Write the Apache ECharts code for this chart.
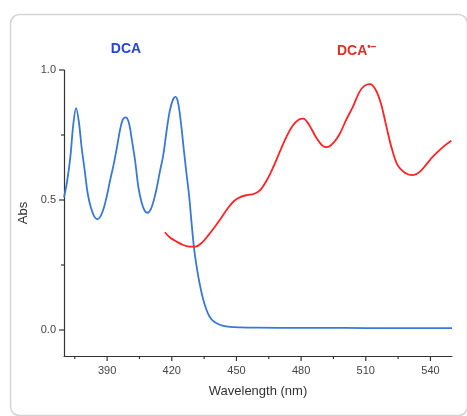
<!DOCTYPE html>
<html>
<head>
<meta charset="utf-8">
<script src="https://cdn.jsdelivr.net/npm/echarts@6/dist/echarts.min.js"></script>
<style>
html,body{margin:0;padding:0;background:#fff;}
#chart{width:467px;height:416px;}
</style>
</head>
<body>
<div id="chart"></div>
<script>
const blueWavelength = [370,371.5,373,374.3,375.6,376.9,378.2,379.5,381,382.5,384,385.5,387,388.5,390,391.5,393,394.5,396,397.3,398.5,400,401.5,403,404.5,406,407.5,408.8,410.3,411.7,413,414.5,416,417.5,419,420.5,421.7,422.9,424.2,425.5,426.7,428,429.2,430.4,431.7,433,434.5,436,437.5,439,441,443.5,447,452,460,480,500,520,550];
const blueAbs = [0.51,0.575,0.67,0.79,0.853,0.80,0.70,0.62,0.525,0.47,0.437,0.426,0.438,0.47,0.52,0.58,0.635,0.70,0.77,0.81,0.818,0.80,0.73,0.65,0.55,0.49,0.458,0.451,0.465,0.50,0.545,0.61,0.67,0.76,0.84,0.885,0.897,0.875,0.80,0.70,0.61,0.52,0.41,0.31,0.235,0.175,0.12,0.08,0.052,0.036,0.025,0.017,0.012,0.01,0.009,0.008,0.008,0.007,0.007];
const redWavelength = [416.8,419,422,425,428,431,434,437,440,443,446,449,452,455,458,461,464,467,470,473,476,479,481,484,487,490,492,495,498,501,504,507,509.5,512,514.5,517,519.5,522,524.5,527,529.5,532,535,538,541,544,547,549.7];
const redAbs = [0.376,0.357,0.341,0.328,0.321,0.321,0.336,0.365,0.397,0.432,0.468,0.497,0.512,0.519,0.523,0.538,0.575,0.625,0.683,0.74,0.785,0.81,0.813,0.785,0.74,0.708,0.703,0.72,0.756,0.81,0.858,0.915,0.94,0.946,0.925,0.872,0.785,0.70,0.638,0.612,0.599,0.596,0.608,0.636,0.666,0.69,0.712,0.728];
const xLabelValues = [390,420,450,480,510,540];
const xMinorValues = [375,405,435,465,495,525];
const yLabelValues = [0,0.5,1.0];
const yMinorValues = [0.25,0.75];

const X_MIN = 370, X_MAX = 550, Y_MIN = -0.1, Y_MAX = 1.0;

const blueData = blueWavelength.map((w,i)=>[w,blueAbs[i]]);
const redData = redWavelength.map((w,i)=>[w,redAbs[i]]);

const chart = echarts.init(document.getElementById('chart'), null, {renderer:'canvas'});
const axisColor = '#333';
const labelColor = '#444';
const font = 'Liberation Sans, Arial, sans-serif';

// tick marks drawn through the axis scales (api.coord)
function tickSeries(kind, values, len){
  const data = values.map(v => kind === 'x' ? [v, Y_MIN] : [X_MIN, v]);
  return {
    type:'custom', silent:true, clip:false, z:5,
    data:data,
    renderItem:function(params, api){
      const p = api.coord([api.value(0), api.value(1)]);
      const shape = kind === 'x'
        ? {x1:p[0], y1:p[1], x2:p[0], y2:p[1]+len}
        : {x1:p[0]-len, y1:p[1], x2:p[0], y2:p[1]};
      return {type:'line', shape:shape, style:{stroke:axisColor, lineWidth:1.2}};
    }
  };
}

chart.setOption({
  animation:false,
  backgroundColor:'#fff',
  graphic:[{
    type:'rect', left:8, top:12,
    shape:{width:457, height:401, r:9},
    style:{fill:'none', stroke:'#d4d4d4', lineWidth:1.5}, z:-1
  }],
  title:[
    {text:'DCA', left:121, top:37, textAlign:'center',
     textStyle:{color:'#2445d8', fontSize:14, fontWeight:'bold', fontFamily:font}},
    {text:'{a|DCA}{b|•−}', left:332, top:37,
     textStyle:{rich:{
       a:{color:'#dc3228', fontSize:14, fontWeight:'bold', fontFamily:font},
       b:{color:'#dc3228', fontSize:10, fontWeight:'bold', fontFamily:font, verticalAlign:'top', padding:[0,0,8,0]}
     }}}
  ],
  grid:{left:64, right:15, top:70, bottom:60, containLabel:false},
  xAxis:{
    type:'value', min:X_MIN, max:X_MAX, position:'bottom',
    name:'Wavelength (nm)', nameLocation:'middle', nameGap:29,
    nameTextStyle:{color:'#333', fontSize:13, fontFamily:font},
    axisLine:{show:true, onZero:false, lineStyle:{color:axisColor, width:1.2}},
    axisTick:{show:false},
    axisLabel:{show:true, customValues:xLabelValues.slice(), margin:9, color:labelColor, fontSize:11, fontFamily:font},
    splitLine:{show:false}
  },
  yAxis:{
    type:'value', min:Y_MIN, max:Y_MAX, position:'left',
    name:'Abs', nameLocation:'middle', nameGap:28, nameRotate:90,
    nameTextStyle:{color:'#333', fontSize:13, fontFamily:font},
    axisLine:{show:true, onZero:false, lineStyle:{color:axisColor, width:1.2}},
    axisTick:{show:false},
    axisLabel:{show:true, customValues:yLabelValues.slice(), margin:8, color:labelColor, fontSize:11, fontFamily:font,
      formatter:v=>Number(v).toFixed(1)},
    splitLine:{show:false}
  },
  series:[
    {type:'line', name:'DCA', data:blueData, smooth:0.35, showSymbol:false,
     lineStyle:{color:'#3a78d8', width:1.8}},
    {type:'line', name:'DCA•−', data:redData, smooth:0.35, showSymbol:false,
     lineStyle:{color:'#ff2424', width:1.8}},
    tickSeries('x', xLabelValues, 5),
    tickSeries('x', xMinorValues, 3),
    tickSeries('y', yLabelValues, 5),
    tickSeries('y', yMinorValues, 3)
  ]
});
</script>
</body>
</html>
